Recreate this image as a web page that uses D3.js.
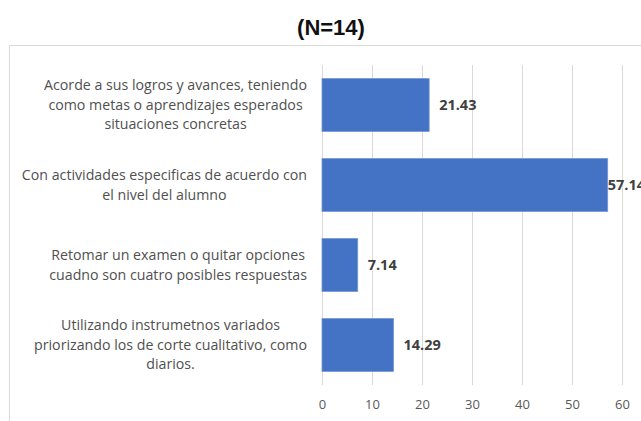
<!DOCTYPE html>
<html><head><meta charset="utf-8">
<script src="https://cdn.jsdelivr.net/npm/d3@7"></script>
<style>body{margin:0;background:#fff}svg{display:block}</style>
</head><body>
<svg id="c" width="641" height="421"></svg>
<script>
const categories = [
  ["Acorde a sus logros y avances, teniendo","como metas o aprendizajes esperados","situaciones concretas"],
  ["Con actividades especificas de acuerdo con","el nivel del alumno"],
  ["Retomar un examen o quitar opciones","cuadno son cuatro posibles respuestas"],
  ["Utilizando instrumetnos variados","priorizando los de corte cualitativo, como","diarios."]
];
const values = [21.43, 57.14, 7.14, 14.29];
const valueLabels = ["21.43","57.14","7.14","14.29"];
const ticks = [0,10,20,30,40,50,60];
const title = "(N=14)";

const svg = d3.select("#c");
const font = "'Open Sans', Lato, sans-serif";
// frame
svg.append("rect").attr("x",9.5).attr("y",45.5).attr("width",700).attr("height",450)
  .attr("fill","none").attr("stroke","#d9d9d9");
svg.append("text").attr("x",331).attr("y",35).attr("text-anchor","middle")
  .attr("font-family","'Liberation Sans', Arial, sans-serif").attr("font-weight","bold")
  .attr("font-size",22).attr("fill","#111")
  .text(title);

const x = d3.scaleLinear().domain([0,60]).range([322,622]);
const y = d3.scaleBand().domain(d3.range(categories.length)).range([65,385]).paddingInner(0.34).paddingOuter(0.17);

// grid
svg.append("g").selectAll("line").data(ticks).join("line")
  .attr("x1",d=>x(d)+0.5).attr("x2",d=>x(d)+0.5).attr("y1",65).attr("y2",385)
  .attr("stroke","#d9d9d9").attr("stroke-width",1);

// axis
const ax = svg.append("g").attr("transform","translate(0,385)")
  .call(d3.axisBottom(x).tickValues(ticks).tickSize(0).tickPadding(15));
ax.select(".domain").remove();
ax.selectAll("text").attr("font-family",font).attr("font-size",13).attr("fill","#595959");

// bars
svg.append("g").selectAll("rect").data(values).join("rect")
  .attr("x",x(0)).attr("y",(d,i)=>y(i)).attr("width",d=>x(d)-x(0)).attr("height",y.bandwidth())
  .attr("fill","#4472c4").attr("stroke","#6f94d6").attr("stroke-width",0.8);

// value labels
svg.append("g").selectAll("text").data(values).join("text")
  .attr("x",d=>x(d)+ (d>50?0:10)).attr("y",(d,i)=>y(i)+y.bandwidth()/2).attr("dy","0.35em")
  .attr("font-family",font).attr("font-weight","bold").attr("font-size",14.5).attr("fill","#404040")
  .text((d,i)=>valueLabels[i]);

// category labels
const lh = 19.5;
categories.forEach((lines,i)=>{
  const g = svg.append("g");
  const cy = y(i)+y.bandwidth()/2;
  const t = g.append("text").attr("font-family",font).attr("font-size",14.2).attr("fill","#505050")
    .attr("text-anchor","middle");
  const n = lines.length;
  lines.forEach((s,j)=>{
    t.append("tspan").attr("x",0).attr("y",cy+(j-(n-1)/2)*lh).attr("dy","0.35em").text(s);
  });
  let mw = 0;
  t.selectAll("tspan").each(function(){mw=Math.max(mw,this.getComputedTextLength());});
  t.selectAll("tspan").attr("x",307-mw/2);
});
</script>
</body></html>
